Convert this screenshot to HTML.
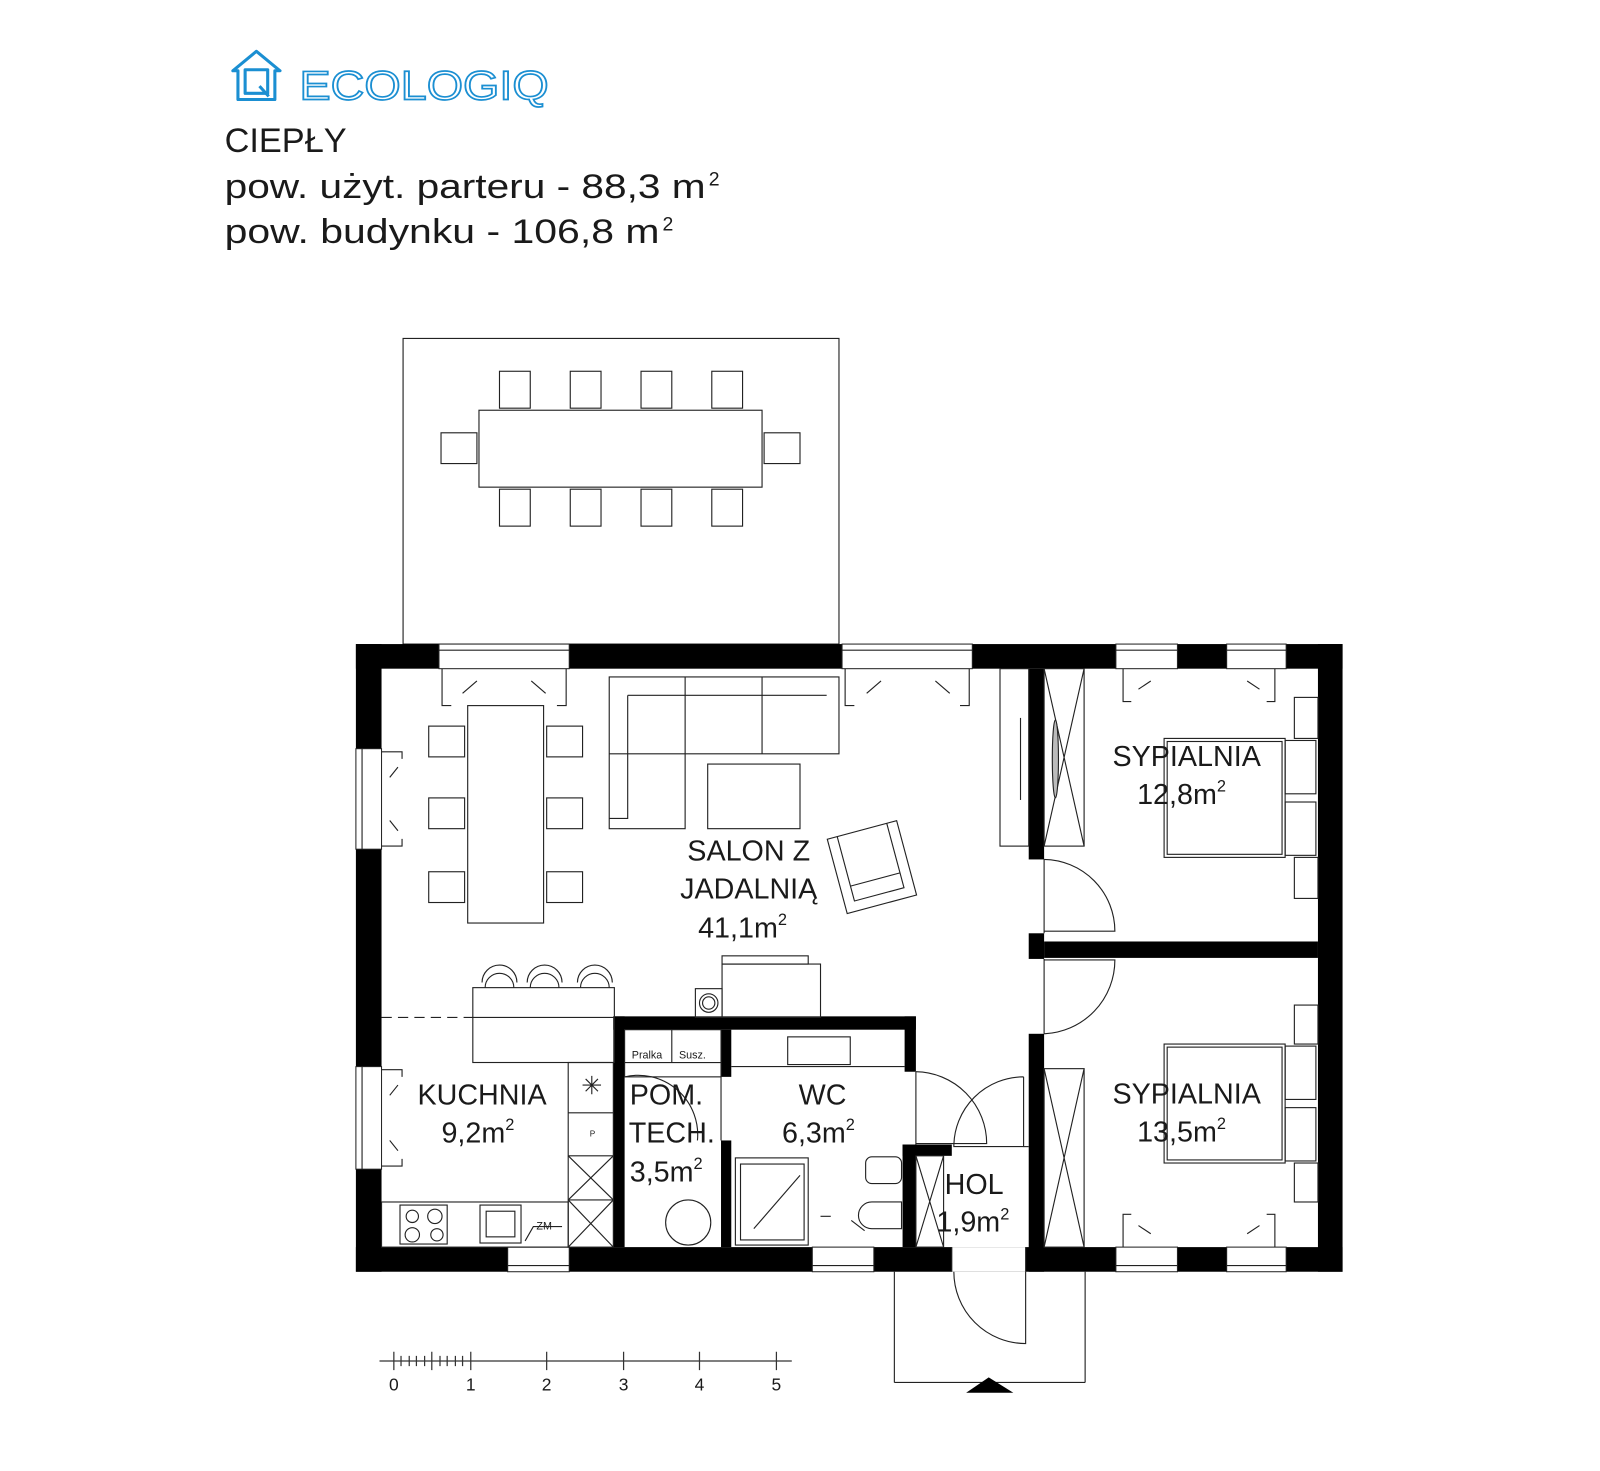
<!DOCTYPE html>
<html><head><meta charset="utf-8"><style>
html,body{margin:0;padding:0;background:#fff;width:1600px;height:1471px;overflow:hidden}
svg{display:block}
text{font-family:"Liberation Sans",sans-serif;fill:#1a1a1a}
.l{fill:none;stroke:#222;stroke-width:1.1}
.w{fill:#000}
.g{fill:#fff;stroke:#222;stroke-width:1.1}
</style></head><body>
<svg width="1600" height="1471" viewBox="0 0 1560 1434.3" preserveAspectRatio="none" xmlns="http://www.w3.org/2000/svg">
<!-- logo -->
<g fill="none" stroke="#1b8fd2" stroke-width="3" stroke-linejoin="round">
<path d="M227 69 L250 50 L273 69 L268 69 L268 97 L232 97 L232 69 Z"/>
<rect x="239" y="68" width="22" height="23"/>
<path d="M253 84 L262 94"/>
</g>
<text x="292" y="97" font-size="40" style="fill:none;stroke:#1b8fd2;stroke-width:1.6" textLength="243" lengthAdjust="spacingAndGlyphs">ECOLOGIQ</text>
<text x="219" y="148" font-size="33" textLength="119" lengthAdjust="spacingAndGlyphs">CIEPŁY</text>
<text x="219" y="193" font-size="33" textLength="469" lengthAdjust="spacingAndGlyphs">pow. użyt. parteru - 88,3 m</text>
<text x="691" y="181" font-size="19">2</text>
<text x="219" y="237" font-size="33" textLength="424" lengthAdjust="spacingAndGlyphs">pow. budynku - 106,8 m</text>
<text x="646" y="225" font-size="19">2</text>

<!-- terrace -->
<rect class="l" x="393" y="330" width="425" height="298"/>
<rect class="l" x="467" y="400" width="276" height="75"/>
<g class="l">
<rect x="487" y="362" width="30" height="36"/><rect x="556" y="362" width="30" height="36"/><rect x="625" y="362" width="30" height="36"/><rect x="694" y="362" width="30" height="36"/>
<rect x="487" y="477" width="30" height="36"/><rect x="556" y="477" width="30" height="36"/><rect x="625" y="477" width="30" height="36"/><rect x="694" y="477" width="30" height="36"/>
<rect x="430" y="422" width="35" height="30"/><rect x="745" y="422" width="35" height="30"/>
</g>

<!-- outer walls -->
<rect class="w" x="347" y="628" width="962" height="24"/>
<rect class="w" x="347" y="1216" width="962" height="24"/>
<rect class="w" x="347" y="628" width="25" height="612"/>
<rect class="w" x="1285" y="628" width="24" height="612"/>
<!-- window gaps -->
<g fill="#fff" stroke="#222" stroke-width="1">
<rect x="428" y="628" width="127" height="24"/><rect x="821" y="628" width="127" height="24"/>
<rect x="1088" y="628" width="60" height="24"/><rect x="1196" y="628" width="58" height="24"/>
<rect x="347" y="730" width="25" height="98"/><rect x="347" y="1040" width="25" height="100"/>
<rect x="495" y="1216" width="60" height="24"/><rect x="792" y="1216" width="60" height="24"/>
<rect x="1088" y="1216" width="60" height="24"/><rect x="1196" y="1216" width="58" height="24"/>
</g>
<g class="l">
<line x1="428" y1="634" x2="555" y2="634"/><line x1="821" y1="634" x2="948" y2="634"/>
<line x1="1088" y1="634" x2="1148" y2="634"/><line x1="1196" y1="634" x2="1254" y2="634"/>
<line x1="353" y1="730" x2="353" y2="828"/><line x1="353" y1="1040" x2="353" y2="1140"/>
<line x1="495" y1="1234" x2="555" y2="1234"/><line x1="792" y1="1234" x2="852" y2="1234"/>
<line x1="1088" y1="1234" x2="1148" y2="1234"/><line x1="1196" y1="1234" x2="1254" y2="1234"/>
<path d="M431 652 V688 H440 M552 652 V688 H543 M824 652 V688 H833 M945 652 V688 H936"/>
<path d="M451 676 L465 664 M532 676 L518 664 M845 676 L859 664 M926 676 L912 664"/>
<path d="M1095 652 V684 H1103 M1243 652 V684 H1235 M1110 672 L1122 664 M1228 672 L1216 664"/>
<path d="M1095 1216 V1184 H1103 M1243 1216 V1184 H1235 M1110 1195 L1122 1203 M1228 1195 L1216 1203"/>
<path d="M372 733 H392 V740 M372 825 H392 V818 M380 758 L388 748 M380 800 L388 810"/>
<path d="M372 1043 H392 V1050 M372 1137 H392 V1130 M380 1068 L388 1058 M380 1112 L388 1122"/>
</g>
<!-- interior walls -->
<rect class="w" x="1003" y="652" width="15" height="186"/>
<rect class="w" x="1003" y="910" width="15" height="25"/>
<rect class="w" x="1018" y="918" width="267" height="16"/>
<rect class="w" x="1003" y="1008" width="15" height="232"/>
<rect class="w" x="598" y="991" width="295" height="13"/>
<rect class="w" x="598" y="991" width="11" height="225"/>
<rect class="w" x="703" y="1004" width="10" height="46"/>
<rect class="w" x="703" y="1112" width="10" height="104"/>
<rect class="w" x="882" y="991" width="11" height="54"/>
<rect class="w" x="880" y="1116" width="13" height="100"/>
<rect class="w" x="880" y="1116" width="48" height="11"/>
<rect fill="#fff" x="928" y="1216" width="72" height="24"/>
<line class="l" x1="1000" y1="1216" x2="1000" y2="1240"/>
<line class="l" x1="928" y1="1216" x2="928" y2="1240"/>

<!-- doors -->
<g class="l">
<line x1="1018" y1="838" x2="1018" y2="910"/><path d="M1018 838 A70 70 0 0 1 1087 908 H1018"/>
<line x1="1018" y1="935" x2="1018" y2="1008"/><path d="M1018 1008 A72 72 0 0 0 1087 936 H1018"/>
<line x1="893" y1="1045" x2="893" y2="1116"/><path d="M893 1045 A70 70 0 0 1 962 1115 H893"/>
<path d="M998 1050 V1118 H930 A68 68 0 0 1 998 1050"/><line x1="998" y1="1118" x2="1003" y2="1118"/>
<path d="M930 1240 A70 70 0 0 0 1000 1310 V1240"/>
<line x1="872" y1="1240" x2="872" y2="1348"/><line x1="1058" y1="1240" x2="1058" y2="1348"/><line x1="872" y1="1348" x2="1058" y2="1348"/>
<path d="M609 1050 A58 58 0 0 1 680 1112" /><line x1="703" y1="1050" x2="703" y2="1112"/>
<path d="M800 1186 H810 M830 1190 L843 1200"/>
</g>
<path d="M942 1358 L964 1343 L988 1358 Z" fill="#000"/>

<!-- dining -->
<g class="l">
<rect x="456" y="688" width="74" height="212"/>
<rect x="418" y="708" width="35" height="30"/><rect x="418" y="778" width="35" height="30"/><rect x="418" y="850" width="35" height="30"/>
<rect x="533" y="708" width="35" height="30"/><rect x="533" y="778" width="35" height="30"/><rect x="533" y="850" width="35" height="30"/>
<path d="M594 660 H818 V735 H668 V808 H594 Z"/>
<path d="M612 678 H806 M612 678 V798 H594 M668 660 V735 M743 660 V735 M594 735 H668"/>
<rect x="690" y="745" width="90" height="63"/>
<g transform="rotate(-15 850 845)"><rect x="815" y="808" width="70" height="75"/><path d="M825 808 V873 H875 V808 M825 858 H875"/></g>
<!-- island -->
<rect x="461" y="963" width="138" height="73"/>
<line x1="461" y1="992" x2="599" y2="992"/>
<line x1="372" y1="992" x2="461" y2="992" stroke-dasharray="10 6"/>
<path d="M473 963 A14 14 0 0 1 501 963 M517 963 A14 14 0 0 1 545 963 M566 963 A14 14 0 0 1 594 963"/>
<path d="M470 958 A17 17 0 0 1 504 958 M514 958 A17 17 0 0 1 548 958 M563 958 A17 17 0 0 1 597 958"/>
<!-- kitchen -->
<rect x="554" y="1036" width="44" height="180"/>
<line x1="554" y1="1085" x2="598" y2="1085"/><line x1="554" y1="1127" x2="598" y2="1127"/><line x1="554" y1="1170" x2="598" y2="1170"/>
<path d="M554 1127 L598 1170 M598 1127 L554 1170 M554 1170 L598 1216 M598 1170 L554 1216"/>
<path d="M568 1058 H586 M577 1049 V1067 M571 1052 L583 1064 M583 1052 L571 1064"/>
<rect x="372" y="1172" width="182" height="44"/>
<rect x="390" y="1175" width="46" height="38"/>
<circle cx="402" cy="1186" r="6"/><circle cx="424" cy="1186" r="7"/><circle cx="402" cy="1204" r="7"/><circle cx="426" cy="1204" r="6"/>
<rect x="468" y="1175" width="40" height="37"/><rect x="474" y="1181" width="28" height="25"/>
<path d="M512 1210 L520 1196 H548"/>
<!-- fireplace -->
<rect x="704" y="940" width="96" height="52"/><rect x="704" y="932" width="84" height="8"/>
<rect x="678" y="964" width="26" height="28"/><circle cx="691" cy="978" r="9"/><circle cx="691" cy="978" r="6"/>
<!-- pom tech -->
<rect x="609" y="1004" width="94" height="46"/><line x1="655" y1="1004" x2="655" y2="1036"/><line x1="609" y1="1036" x2="703" y2="1036"/>
<circle cx="671" cy="1192" r="22"/>
<!-- wc -->
<rect x="768" y="1011" width="61" height="27"/><line x1="713" y1="1040" x2="882" y2="1040"/>
<rect x="717" y="1129" width="71" height="85"/><rect x="722" y="1135" width="62" height="74"/><path d="M735 1198 L780 1146"/>
<rect x="844" y="1128" width="35" height="26" rx="6"/><path d="M850 1172 H879 V1198 H850 A13 13 0 0 1 850 1172"/>
<!-- cabinets -->
<rect x="975" y="652" width="28" height="173"/><line x1="995" y1="700" x2="995" y2="780"/>
<rect x="1018" y="652" width="39" height="173"/><path d="M1018 652 L1057 825 M1057 652 L1018 825"/>
<ellipse cx="1029" cy="740" rx="3" ry="38" fill="#bbb"/>
<rect x="1018" y="1042" width="39" height="174"/><path d="M1018 1042 L1057 1216 M1057 1042 L1018 1216"/>
<rect x="893" y="1127" width="27" height="89"/><path d="M893 1127 L920 1216 M920 1127 L893 1216"/>
<!-- beds -->
<rect x="1135" y="720" width="118" height="116"/><rect x="1138" y="723" width="112" height="110"/>
<rect x="1253" y="722" width="30" height="52"/><rect x="1253" y="782" width="30" height="52"/>
<rect x="1262" y="680" width="23" height="40"/><rect x="1262" y="836" width="23" height="40"/>
<rect x="1135" y="1018" width="118" height="116"/><rect x="1138" y="1021" width="112" height="110"/>
<rect x="1253" y="1020" width="30" height="52"/><rect x="1253" y="1080" width="30" height="52"/>
<rect x="1262" y="980" width="23" height="38"/><rect x="1262" y="1134" width="23" height="38"/>
</g>
<g font-size="10.5"><text x="616" y="1032">Pralka</text><text x="662" y="1032">Susz.</text><text x="523" y="1199">ZM</text><text x="575" y="1108" font-size="8">P</text></g>

<!-- labels -->
<g font-size="28" text-anchor="middle">
<text x="730" y="839">SALON Z</text><text x="730" y="876">JADALNIĄ</text><text x="724" y="914">41,1m<tspan font-size="16" dy="-12">2</tspan></text>
<text x="470" y="1077">KUCHNIA</text><text x="466" y="1114">9,2m<tspan font-size="16" dy="-12">2</tspan></text>
<text x="802" y="1077">WC</text><text x="798" y="1114">6,3m<tspan font-size="16" dy="-12">2</tspan></text>
<text x="1157" y="747">SYPIALNIA</text><text x="1152" y="784">12,8m<tspan font-size="16" dy="-12">2</tspan></text>
<text x="1157" y="1076">SYPIALNIA</text><text x="1152" y="1113">13,5m<tspan font-size="16" dy="-12">2</tspan></text>
</g>
<g font-size="28">
<text x="614" y="1077">POM.</text><text x="613" y="1114">TECH.</text><text x="614" y="1152">3,5m<tspan font-size="16" dy="-12">2</tspan></text>
<text x="921" y="1164">HOL</text><text x="913" y="1201">1,9m<tspan font-size="16" dy="-12">2</tspan></text>
</g>

<!-- scale -->
<g stroke="#333" stroke-width="1.2">
<line x1="370" y1="1327" x2="772" y2="1327"/>
<path d="M384 1318 V1336 M421 1318 V1336 M459 1318 V1336 M533 1318 V1336 M608 1318 V1336 M682 1318 V1336 M757 1318 V1336"/>
<path d="M391 1322 V1332 M399 1322 V1332 M406 1322 V1332 M414 1322 V1332 M429 1322 V1332 M436 1322 V1332 M444 1322 V1332 M451 1322 V1332"/>
</g>
<g font-size="17" text-anchor="middle"><text x="384" y="1356">0</text><text x="459" y="1356">1</text><text x="533" y="1356">2</text><text x="608" y="1356">3</text><text x="682" y="1356">4</text><text x="757" y="1356">5</text></g>
</svg>
</body></html>
